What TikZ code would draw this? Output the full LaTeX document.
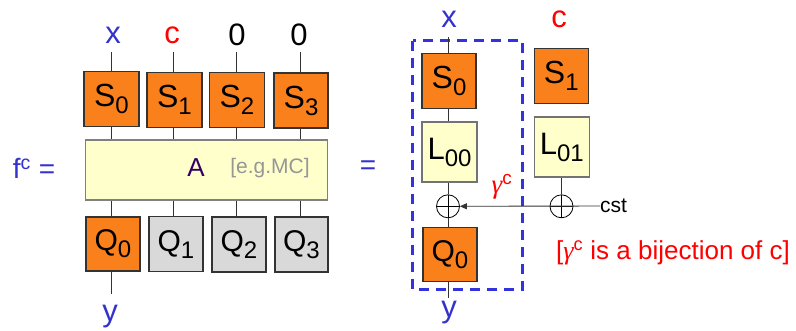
\documentclass[tikz,border=0pt]{standalone}
\usepackage{fontspec}
\setmainfont{Liberation Sans}
\newfontfamily\serifg{Liberation Serif}
\usetikzlibrary{arrows.meta}
\definecolor{blueT}{RGB}{51,51,204}
\definecolor{blueD}{RGB}{51,51,221}
\definecolor{orangeF}{RGB}{250,128,28}
\definecolor{yellowF}{RGB}{255,255,204}
\definecolor{grayF}{RGB}{217,217,217}
\definecolor{purpleT}{RGB}{51,0,102}
\definecolor{grayT}{RGB}{150,150,150}
\definecolor{redT}{RGB}{255,0,0}
\newcommand\fsz[1]{\fontsize{#1}{#1}\selectfont}
\newcommand\lsub[1]{\raisebox{-7pt}{\fsz{24}#1}}
\newcommand\gam{{\serifg\itshape γ}}
\tikzset{
  box/.style={draw=black!80, line width=1.1pt, inner sep=0pt, minimum width=55pt, minimum height=55pt},
  sbox/.style={box, fill=orangeF, font=\fsz{32}},
  qbox/.style={box, fill=grayF, font=\fsz{30}},
  lbox/.style={box, fill=yellowF, draw=black!55, minimum height=60pt, font=\fsz{31}},
  wire/.style={draw=black!80, line width=0.9pt},
  toplab/.style={font=\fsz{31}, inner sep=0pt},
  oplus/.style={circle, draw=black, line width=0.8pt, minimum size=23pt, inner sep=0pt,
    path picture={\draw[line width=0.8pt] (path picture bounding box.north) -- (path picture bounding box.south)
      (path picture bounding box.west) -- (path picture bounding box.east);}},
}
\begin{document}
\begin{tikzpicture}[x=1pt, y=-1pt]
\useasboundingbox (0,0) rectangle (796,330);
% ---------- left ----------
\node[toplab, text=blueT] (lx) at (113,35) {x};
\node[toplab, text=redT] (lc) at (172,35) {c};
\node[toplab] (l2) at (237,35) {0};
\node[toplab] (l3) at (299,35) {0};
\coordinate (t0) at (111,52);
\coordinate (t1) at (173,52);
\coordinate (t2) at (236,52);
\coordinate (t3) at (300,52);

\node[sbox] (S0) at (111.5,99) {S\lsub{0}};
\node[sbox] (S1) at (174.5,99.7) {S\lsub{1}};
\node[sbox] (S2) at (237,99.7) {S\lsub{2}};
\node[sbox, minimum width=54pt] (S3) at (301,100.5) {S\lsub{3}};

\node[box, fill=yellowF, draw=black!50, line width=1.4pt, minimum width=242pt, minimum height=60pt] (A) at (206.7,170) {};
\node[font=\fsz{26}, text=purpleT, inner sep=0pt] (Alab) at (196,168) {A};
\node[font=\fsz{21}, text=grayT, inner sep=0pt] (eg) at (270,168) {[e.g.MC]};

\node[sbox, font=\fsz{30}, minimum width=54pt, minimum height=54pt] (Q0) at (113,244) {Q\lsub{0}};
\node[qbox, minimum width=54pt] (Q1) at (176,244.3) {Q\lsub{1}};
\node[qbox, minimum width=54pt] (Q2) at (239,244.5) {Q\lsub{2}};
\node[qbox, minimum width=53pt] (Q3) at (301.5,244.5) {Q\lsub{3}};
\coordinate (b0) at (111,294);
\node[toplab, text=blueT] (ly) at (110,317) {y};

\foreach \t/\s/\q in {t0/S0/Q0, t1/S1/Q1, t2/S2/Q2, t3/S3/Q3}{
  \draw[wire] (\t) -- (\t |- \s.north);
  \draw[wire] (\t |- \s.south) -- (\t |- A.north);
  \draw[wire] (\t |- A.south) -- (\t |- \q.north);
}
\draw[wire] (b0 |- Q0.south) -- (b0);

\node[font=\fsz{28}, text=blueT, inner sep=0pt] (fc) at (34,168) {f\textsuperscript{c} =};
\node[font=\fsz{28}, text=blueT, inner sep=0pt] (eq) at (368,168) {=};

% ---------- right ----------
\draw[blueD, line width=2.5pt, dash pattern=on 10pt off 7pt] (412.7,40.7) rectangle (522.7,289.3);
\node[toplab, text=blueT] (rx) at (449,19) {x};
\node[toplab, text=redT] (rc) at (559,19) {c};
\coordinate (rt) at (448,37);
\node[sbox, minimum width=54pt] (RS0) at (449,80.8) {S\lsub{0}};
\node[sbox, minimum width=54pt] (RS1) at (561.3,76.2) {S\lsub{1}};
\node[lbox] (L00) at (449.5,152) {L\lsub{00}};
\node[lbox] (L01) at (561.8,147) {L\lsub{01}};
\node[oplus] (opL) at (448,206.3) {};
\node[oplus] (opR) at (561.5,206.3) {};
\node[sbox, font=\fsz{30}, minimum width=54pt, minimum height=54pt] (RQ0) at (450,254.7) {Q\lsub{0}};
\coordinate (rb) at (448,298);
\node[toplab, text=blueT] (ry) at (449,313) {y};
\node[font=\fsz{21}, inner sep=0pt, anchor=west] (cst) at (600,206) {cst};
\node[font=\fsz{27}, text=redT, inner sep=0pt] (gam) at (502,187) {\gam\textsuperscript{c}};
\node[font=\fsz{26}, text=redT, inner sep=0pt] (bij) at (673,253) {[\gam\textsuperscript{c} is a bijection of c]};

\draw[wire] (rt) -- (rt |- RS0.north);
\draw[wire] (rt |- RS0.south) -- (rt |- L00.north);
\draw[wire] (rt |- L00.south) -- (opL.north);
\draw[wire] (opL.south) -- (rt |- RQ0.north);
\draw[wire] (rt |- RQ0.south) -- (rb);
\draw[wire] (opR |- L01.south) -- (opR.north);
\draw[wire, -{Triangle[length=7pt,width=6pt]}] (cst.west) -- (opL.east);
\end{tikzpicture}
\end{document}
